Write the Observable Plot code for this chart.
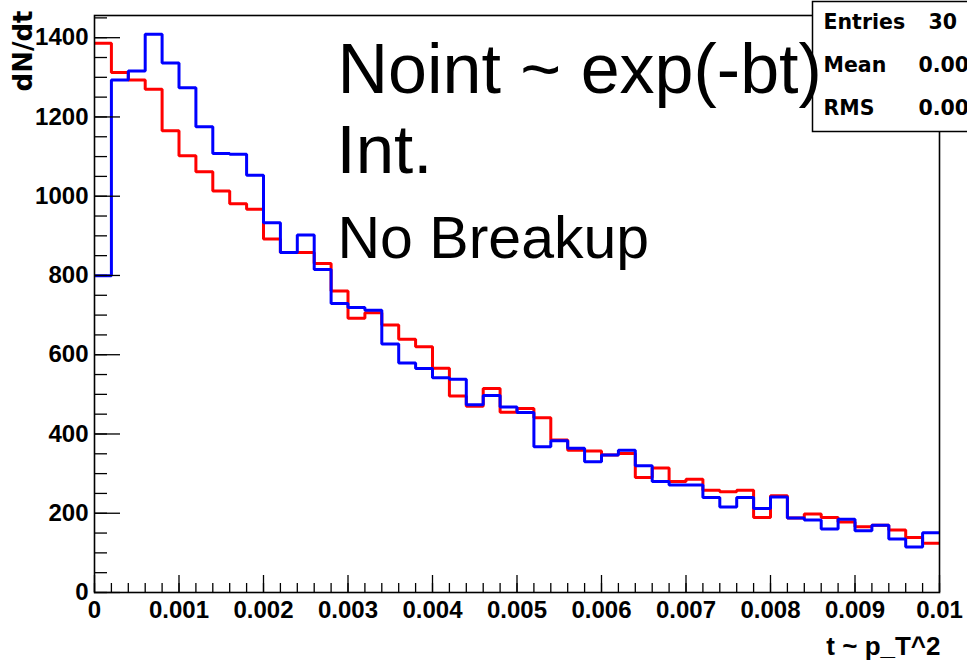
<!DOCTYPE html>
<html>
<head>
<meta charset="utf-8">
<script src="https://cdn.jsdelivr.net/npm/d3@7"></script>
<script src="https://cdn.jsdelivr.net/npm/@observablehq/plot@0.6"></script>
<style>
  html, body { margin: 0; padding: 0; background: #fff; }
  #chart svg { display: block; }
</style>
</head>
<body>
<div id="chart"></div>
<script>
// ---- data (50 bins over [0, 0.01]) ----
const binWidth = 0.0002;
const tMin = 0;
const tMax = 0.01;
const yMax = 1456;

// "No Breakup" (red)
const redCounts = [
  1386, 1312, 1293, 1270, 1165, 1102, 1062, 1013, 981, 967,
  892, 858, 858, 830, 761, 692, 706, 675, 639, 620,
  566, 496, 470, 515, 455, 464, 441, 385, 359, 357,
  347, 351, 290, 314, 280, 286, 258, 254, 258, 189,
  244, 188, 198, 189, 178, 166, 170, 158, 139, 124
];

// "Int." (blue)
const blueCounts = [
  799, 1293, 1316, 1409, 1336, 1274, 1175, 1108, 1106, 1053,
  933, 858, 902, 815, 729, 719, 712, 627, 579, 565,
  542, 538, 474, 497, 468, 454, 368, 383, 364, 330,
  347, 359, 320, 280, 271, 271, 240, 216, 240, 212,
  241, 188, 183, 160, 185, 156, 170, 135, 115, 151
];

const xMajorTicks = [0, 0.001, 0.002, 0.003, 0.004, 0.005, 0.006, 0.007, 0.008, 0.009, 0.01];
const xMinorTicks = d3.range(0, 51).map(i => +(i * binWidth).toFixed(5));
const yMajorTicks = [0, 200, 400, 600, 800, 1000, 1200, 1400];
const yMinorTicks = d3.range(0, 1451, 50);

const statNames = ["Entries", "Mean", "RMS"];
const statValues = ["30", "0.003", "0.002"];
const annotationLines = ["Noint ~ exp(-bt)", "Int.", "No Breakup"];
const xTitle = "t ~ p_T^2";
const yTitle = "dN/dt";

// step rows: each bin's left edge, plus the right edge of the last bin
function toSteps(counts) {
  const rows = counts.map((v, i) => ({t: i * binWidth, v}));
  rows.push({t: tMax, v: counts[counts.length - 1]});
  return rows;
}

const tickFont = {fontSize: 24, fontWeight: "bold", fontFamily: "Liberation Sans, Arial, sans-serif"};
const statFont = {fontSize: 20.5, fontWeight: "bold", fontFamily: "DejaVu Sans, sans-serif", frameAnchor: "top-left", textAnchor: "start", lineAnchor: "top"};
const statRowDy = [-1.5, 42, 85];
const statValueDx = [834, 824, 824];

const statMarks = statNames.flatMap((name, i) => [
  Plot.text([name], {...statFont, dx: 729, dy: statRowDy[i]}),
  Plot.text([statValues[i]], {...statFont, dx: statValueDx[i], dy: statRowDy[i]})
]);

const chart = Plot.plot({
  width: 967,
  height: 663,
  marginLeft: 94,
  marginRight: 28,
  marginTop: 15,
  marginBottom: 71,
  style: {background: "white", color: "black", fontFamily: "Liberation Sans, Arial, sans-serif"},
  x: {domain: [tMin, tMax]},
  y: {domain: [0, yMax]},
  marks: [
    // histograms
    Plot.line(toSteps(redCounts), {x: "t", y: "v", curve: "step-after", stroke: "#ff0000", strokeWidth: 3, strokeLinejoin: "miter", strokeLinecap: "butt"}),
    Plot.line(toSteps(blueCounts), {x: "t", y: "v", curve: "step-after", stroke: "#0000ff", strokeWidth: 3, strokeLinejoin: "miter", strokeLinecap: "butt"}),
    // frame
    Plot.frame({stroke: "black", strokeWidth: 1.6}),
    // inward ticks
    Plot.axisY(yMajorTicks, {anchor: "left", tickSize: 26, dx: 26, fill: "none", label: null, strokeWidth: 1.3}),
    Plot.axisY(yMinorTicks, {anchor: "left", tickSize: 13, dx: 13, fill: "none", label: null, strokeWidth: 1.3}),
    Plot.axisX(xMajorTicks, {anchor: "bottom", tickSize: 17, dy: -17, fill: "none", label: null, strokeWidth: 1.3}),
    Plot.axisX(xMinorTicks, {anchor: "bottom", tickSize: 9, dy: -9, fill: "none", label: null, strokeWidth: 1.3}),
    // tick labels
    Plot.axisY(yMajorTicks, {anchor: "left", tickSize: 0, tickPadding: 6, tickFormat: d => String(d), label: null, ...tickFont}),
    Plot.axisX(xMajorTicks, {anchor: "bottom", tickSize: 0, tickPadding: 8, tickFormat: d => String(d), label: null, ...tickFont}),
    // axis titles
    Plot.text([yTitle], {frameAnchor: "top-left", rotate: -90, textAnchor: "end", lineAnchor: "middle", dx: -71, dy: -5, fontSize: 26, fontWeight: "bold", fontFamily: "DejaVu Sans, sans-serif"}),
    Plot.text([xTitle], {frameAnchor: "bottom-right", textAnchor: "end", lineAnchor: "top", dx: 1, dy: 44, fontSize: 26, fontWeight: "bold"}),
    // stats box
    Plot.frame({fill: "white", stroke: "black", strokeWidth: 1.5, insetLeft: 718, insetTop: -14, insetRight: -40, insetBottom: 461}),
    ...statMarks,
    // annotations
    Plot.text([annotationLines[0]], {frameAnchor: "top-left", textAnchor: "start", lineAnchor: "top", dx: 243, dy: 28, fontSize: 70, fontWeight: "normal"}),
    Plot.text([annotationLines[1]], {frameAnchor: "top-left", textAnchor: "start", lineAnchor: "top", dx: 242, dy: 108, fontSize: 69, fontWeight: "normal"}),
    Plot.text([annotationLines[2]], {frameAnchor: "top-left", textAnchor: "start", lineAnchor: "top", dx: 243, dy: 201, fontSize: 59, fontWeight: "normal"})
  ]
});

document.getElementById("chart").appendChild(chart);
</script>
</body>
</html>
